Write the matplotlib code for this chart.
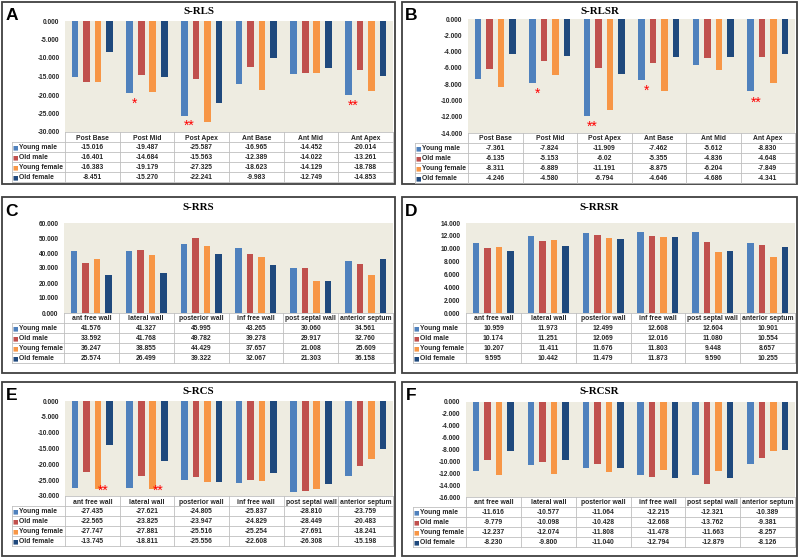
import numpy as np
import matplotlib
matplotlib.use('Agg')
import matplotlib.pyplot as plt
from matplotlib.patches import Rectangle

groups = ['Young male', 'Old male', 'Young female', 'Old female']
colors = ['#4F81BD', '#C0504D', '#F79646', '#1F497D']

seg_long = ['Post Base', 'Post Mid', 'Post Apex', 'Ant Base', 'Ant Mid', 'Ant Apex']
seg_rad = ['ant free wall', 'lateral wall', 'posterior wall', 'inf free wall',
           'post septal wall', 'anterior septum']

# values kept as printed in the tables (one row per group)
rls = [['-15.016', '-19.487', '-25.587', '-16.965', '-14.452', '-20.014'],
       ['-16.401', '-14.684', '-15.563', '-12.389', '-14.022', '-13.261'],
       ['-16.383', '-19.179', '-27.325', '-18.623', '-14.129', '-18.788'],
       ['-8.451', '-15.270', '-22.241', '-9.983', '-12.749', '-14.853']]

rlsr = [['-7.361', '-7.824', '-11.909', '-7.462', '-5.612', '-8.830'],
        ['-6.135', '-5.153', '-6.02', '-5.355', '-4.836', '-4.648'],
        ['-8.311', '-6.889', '-11.191', '-8.875', '-6.204', '-7.849'],
        ['-4.246', '-4.580', '-6.794', '-4.646', '-4.686', '-4.341']]

rrs = [['41.576', '41.327', '45.995', '43.265', '30.060', '34.561'],
       ['33.592', '41.768', '49.782', '39.278', '29.917', '32.760'],
       ['36.247', '38.855', '44.429', '37.657', '21.008', '25.609'],
       ['25.574', '26.499', '39.322', '32.067', '21.303', '36.158']]

rrsr = [['10.959', '11.973', '12.499', '12.608', '12.604', '10.901'],
        ['10.174', '11.251', '12.069', '12.016', '11.080', '10.554'],
        ['10.207', '11.411', '11.676', '11.803', '9.448', '8.657'],
        ['9.595', '10.442', '11.479', '11.873', '9.590', '10.255']]

rcs = [['-27.435', '-27.621', '-24.805', '-25.837', '-28.810', '-23.759'],
       ['-22.565', '-23.825', '-23.947', '-24.829', '-28.449', '-20.483'],
       ['-27.747', '-27.881', '-25.516', '-25.254', '-27.691', '-18.241'],
       ['-13.745', '-18.811', '-25.556', '-22.608', '-26.308', '-15.198']]

rcsr = [['-11.616', '-10.577', '-11.064', '-12.215', '-12.321', '-10.389'],
        ['-9.779', '-10.098', '-10.428', '-12.668', '-13.762', '-9.381'],
        ['-12.237', '-12.074', '-11.808', '-11.478', '-11.663', '-8.257'],
        ['-8.230', '-9.800', '-11.040', '-12.794', '-12.879', '-8.126']]

# significance marks: (segment index, pair 0 = male / 1 = female, mark)
rls_stars = [(1, 0, '*'), (2, 0, '**'), (5, 0, '**')]
rlsr_stars = [(1, 0, '*'), (2, 0, '**'), (3, 0, '*'), (5, 0, '**')]
rcs_stars = [(0, 1, '**'), (1, 1, '**')]

W, H = 798, 558
fig = plt.figure(figsize=(W / 100, H / 100), dpi=100)
bold = dict(family='Liberation Sans', weight='bold')


def fx(x):
    return x / W


def fy(y):
    return 1 - y / H


def panel(letter, title, cats, vals, ylim, step, stars, box, plot, lx):
    x0, y0, x1, y1 = box
    px0, py0, px1, py1 = plot
    fig.patches.append(Rectangle((fx(x0), fy(y1)), fx(x1 - x0), (y1 - y0) / H,
                                 transform=fig.transFigure, facecolor='white',
                                 edgecolor='#404040', lw=1.3, zorder=-5))
    fig.text(fx(x0 + 9.5), fy(y0 + 14), letter, fontsize=12.5, ha='center',
             va='center', **bold)
    fig.text(fx((x0 + x1) / 2), fy(y0 + 10), title, fontsize=7.8, ha='center',
             va='center', family='Liberation Serif', weight='bold')

    data = np.array([[float(v) for v in row] for row in vals])
    ax = fig.add_axes([fx(px0), fy(py1), fx(px1 - px0), (py1 - py0) / H])
    ax.set_facecolor('#EEECE1')
    x = np.arange(len(cats))
    for j in range(4):
        ax.bar(x + (j - 1.5) * 0.21, data[j], width=0.12, color=colors[j], zorder=2)
    ax.set_xlim(-0.5, len(cats) - 0.5)
    ax.set_ylim(*ylim)
    ticks = np.arange(min(ylim), max(ylim) + step / 2, step)
    ax.set_yticks(ticks)
    ax.set_yticklabels(['%.3f' % t for t in ticks], fontsize=4.7, color='#262626', **bold)
    ax.tick_params(axis='y', length=0, pad=4)
    ax.set_xticks([])
    for s in ax.spines.values():
        s.set_visible(False)

    rng = abs(ylim[1] - ylim[0])
    lo = min(ylim)
    for ci, pair, mark in stars:
        pv = data[2 * pair:2 * pair + 2, ci]
        ys = max(pv.min() - 0.1 * rng, lo + 0.055 * rng)
        xs = ci + (-0.22 if pair == 0 else 0.2)
        ax.text(xs, ys, mark, color='#FF0000', fontsize=10, ha='center',
                va='center', family='Liberation Sans', zorder=3, clip_on=False)

    # data table under the plot
    catw = (px1 - px0) / len(cats)
    legw = (px0 - lx) / catw
    tab = fig.add_axes([fx(lx), fy(py1 + 50), fx(px1 - lx), 50 / H])
    tab.set_xlim(-0.5 - legw, len(cats) - 0.5)
    tab.set_ylim(5, 0)
    tab.axis('off')
    lc = '#BFBFBF'
    left = -0.5 - legw
    right = len(cats) - 0.5
    tab.plot([-0.5, right], [0, 0], color=lc, lw=0.6, clip_on=False)
    for r in range(1, 6):
        tab.plot([left, right], [r, r], color=lc, lw=0.6, clip_on=False)
    tab.plot([left, left], [1, 5], color=lc, lw=0.6, clip_on=False)
    for k in range(len(cats) + 1):
        tab.plot([k - 0.5, k - 0.5], [0, 5], color=lc, lw=0.6, clip_on=False)
    for k, c in enumerate(cats):
        tab.text(k, 0.6, c, fontsize=4.9, ha='center', va='center',
                 color='#262626', **bold)
    for j, g in enumerate(groups):
        tab.text(left + 0.055, j + 1.55, '\u25a0', fontsize=4.2, color=colors[j],
                 ha='center', va='center', family='DejaVu Sans')
        tab.text(left + 0.12, j + 1.55, g, fontsize=4.9, ha='left', va='center',
                 color='#262626', **bold)
        for k in range(len(cats)):
            tab.text(k, j + 1.55, vals[j][k], fontsize=4.9, ha='center',
                     va='center', color='#262626', **bold)


panel('A', 'S-RLS', seg_long, rls, (-30, 0), 5, rls_stars,
      (2, 2, 395, 184), (65, 21, 393, 132), 12)
panel('B', 'S-RLSR', seg_long, rlsr, (-14, 0), 2, rlsr_stars,
      (402, 2, 797, 184), (468, 19, 795, 133), 415)
panel('C', 'S-RRS', seg_rad, rrs, (0, 60), 10, [],
      (2, 197, 395, 373), (64, 223, 393, 313), 12)
panel('D', 'S-RRSR', seg_rad, rrsr, (0, 14), 2, [],
      (402, 197, 797, 373), (466, 223, 795, 313), 413)
panel('E', 'S-RCS', seg_rad, rcs, (-30, 0), 5, rcs_stars,
      (2, 382, 395, 556), (65, 401, 393, 496), 12)
panel('F', 'S-RCSR', seg_rad, rcsr, (-16, 0), 2, [],
      (402, 382, 797, 556), (466, 402, 795, 497), 413)

fig.savefig('out.png', dpi=100)
